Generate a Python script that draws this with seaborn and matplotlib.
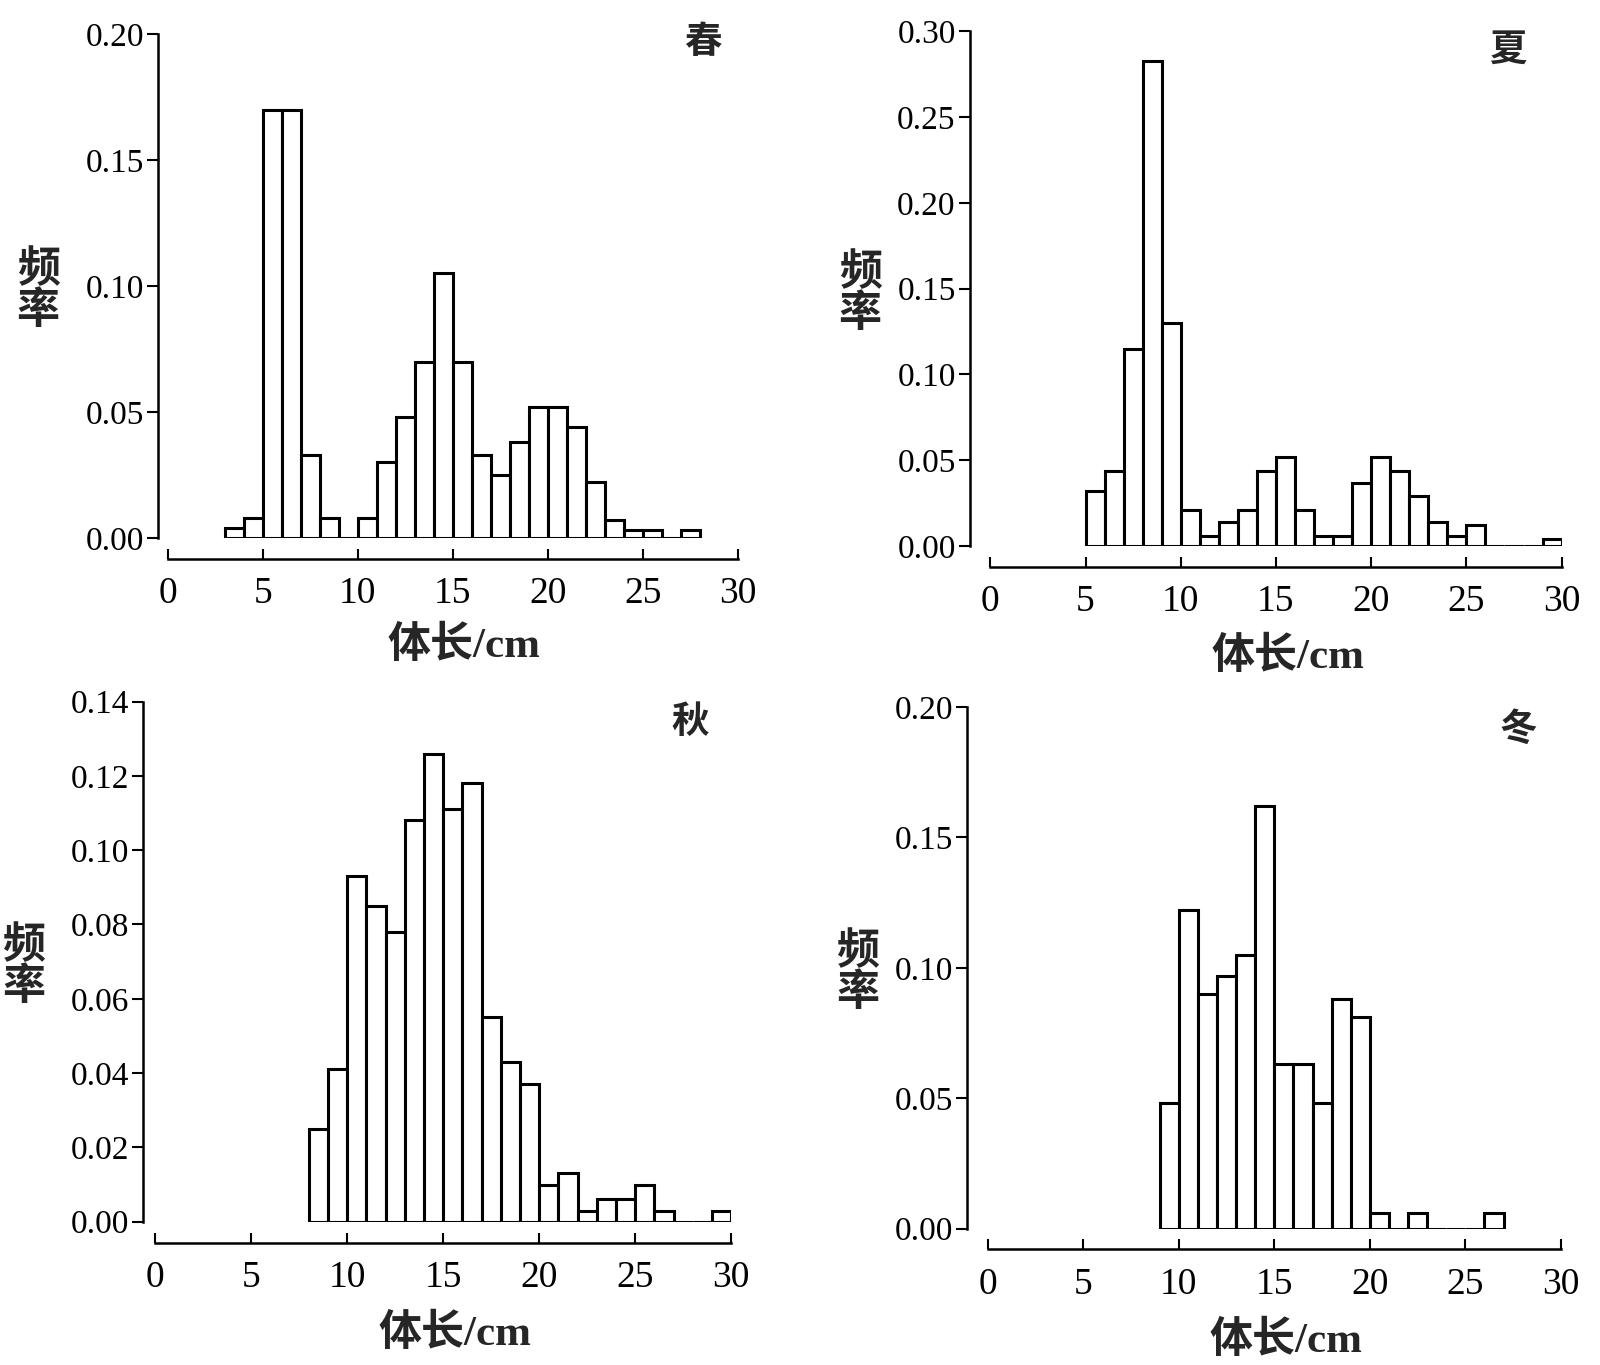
import numpy as np
import pandas as pd
import matplotlib
matplotlib.use("Agg")
import matplotlib.pyplot as plt
import seaborn as sns

# length classes (left edge, cm, 1 cm wide) and their frequency
spring_len = list(range(3, 28))
spring_freq = [0.004, 0.008, 0.170, 0.170, 0.033, 0.008, 0.0, 0.008, 0.030, 0.048,
               0.070, 0.105, 0.070, 0.033, 0.025, 0.038, 0.052, 0.052, 0.044, 0.022,
               0.007, 0.003, 0.003, 0.0, 0.003]

summer_len = list(range(5, 30))
summer_freq = [0.032, 0.044, 0.115, 0.283, 0.130, 0.021, 0.006, 0.014, 0.021, 0.044,
               0.052, 0.021, 0.006, 0.006, 0.037, 0.052, 0.044, 0.029, 0.014, 0.006,
               0.012, 0.0, 0.0, 0.0, 0.004]

autumn_len = list(range(8, 30))
autumn_freq = [0.025, 0.041, 0.093, 0.085, 0.078, 0.108, 0.126, 0.111, 0.118, 0.055,
               0.043, 0.037, 0.010, 0.013, 0.003, 0.006, 0.006, 0.010, 0.003, 0.0,
               0.0, 0.003]

winter_len = list(range(9, 27))
winter_freq = [0.048, 0.122, 0.090, 0.097, 0.105, 0.162, 0.063, 0.063, 0.048, 0.088,
               0.081, 0.006, 0.0, 0.006, 0.0, 0.0, 0.0, 0.006]

seasons = ["春", "夏", "秋", "冬"]
y_max = [0.20, 0.30, 0.14, 0.20]
y_step = [0.05, 0.05, 0.02, 0.05]
x_ticks = [0, 5, 10, 15, 20, 25, 30]

sns.set_style("ticks")
plt.rcParams["font.family"] = ["Liberation Serif", "Noto Sans CJK SC"]

fig = plt.figure(figsize=(16, 13.65), dpi=100)

# [left, bottom, width, height], left-spine offset (pt), season label pos
panels = [
    (spring_len, spring_freq, [0.105, 0.606, 0.356, 0.369], 7, (0.938, 0.982)),
    (summer_len, summer_freq, [0.619, 0.600, 0.357, 0.377], 15, (0.907, 0.961)),
    (autumn_len, autumn_freq, [0.097, 0.105, 0.360, 0.381], 9, (0.929, 0.958)),
    (winter_len, winter_freq, [0.6175, 0.100, 0.358, 0.382], 15, (0.925, 0.956)),
]

for i, (lens, freqs, rect, off, lab_xy) in enumerate(panels):
    ax = fig.add_axes(rect)
    df = pd.DataFrame({"len": [v + 0.5 for v in lens], "freq": freqs})
    sns.histplot(data=df, x="len", weights="freq", binwidth=1,
                 binrange=(lens[0], lens[-1] + 1), ax=ax,
                 color="white", edgecolor="black", linewidth=2.2, alpha=1)

    ax.set_xlim(0, 30)
    ax.set_ylim(0, y_max[i])
    ax.set_xticks(x_ticks)
    yt = np.arange(0, y_max[i] + 1e-9, y_step[i])
    ax.set_yticks(yt)
    ax.set_yticklabels([f"{v:.2f}" for v in yt])

    sns.despine(ax=ax)
    ax.spines["left"].set_position(("outward", off))
    ax.spines["bottom"].set_position(("outward", 15))
    ax.spines["left"].set_bounds(0, y_max[i])
    ax.spines["bottom"].set_bounds(0, 30)
    for s in ("left", "bottom"):
        ax.spines[s].set_linewidth(1.8)
        ax.spines[s].set_color("black")

    ax.tick_params(axis="y", direction="out", length=8, width=1.5,
                   labelsize=24, pad=2, colors="black")
    ax.tick_params(axis="x", direction="in", length=7, width=1.5,
                   labelsize=27, pad=13, colors="black")

    ax.set_ylabel("频\n率", rotation=0, fontsize=31, linespacing=1.0,
                  ha="center", va="center", fontweight="bold")
    ax.yaxis.set_label_coords(-0.228, 0.49)
    ax.set_xlabel("体长/cm", fontsize=31, fontweight="bold")
    ax.xaxis.set_label_coords(0.52, -0.215)
    ax.xaxis.label.set_va("center")

    ax.text(lab_xy[0], lab_xy[1], seasons[i], transform=ax.transAxes,
            fontsize=27, ha="center", va="center", fontweight="bold")

fig.savefig("out.png", dpi=100, facecolor="white")
